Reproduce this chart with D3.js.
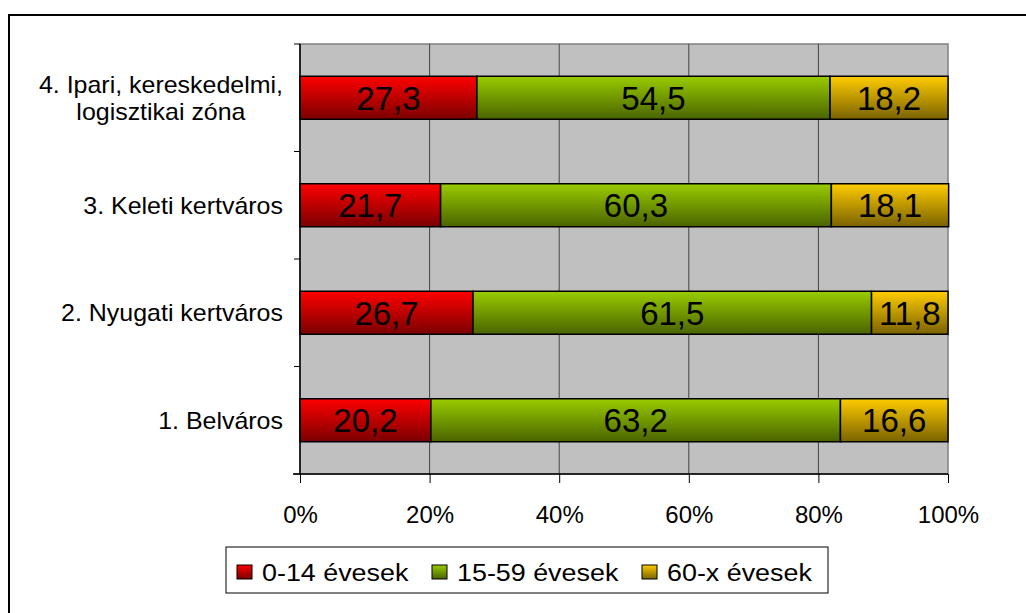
<!DOCTYPE html>
<html><head><meta charset="utf-8">
<script src="https://cdn.jsdelivr.net/npm/d3@7"></script>
<style>
html,body{margin:0;padding:0;background:#fff;}
text{font-family:"Liberation Sans",Arial,sans-serif;fill:#000;}
</style></head>
<body>
<svg id="chart" width="1026" height="613"></svg>
<script>
const categories = [["4. Ipari, kereskedelmi,","logisztikai zóna"],["3. Keleti kertváros"],["2. Nyugati kertváros"],["1. Belváros"]];
const seriesNames = ["0-14 évesek","15-59 évesek","60-x évesek"];
const age0_14 = [27.3, 21.7, 26.7, 20.2];
const age15_59 = [54.5, 60.3, 61.5, 63.2];
const age60x = [18.2, 18.1, 11.8, 16.6];
const xTicks = [0, 0.2, 0.4, 0.6, 0.8, 1.0];

const svg = d3.select("#chart");
const W = 1026, H = 613;
const M = {left: 300, top: 44, right: 948, bottom: 474};

// outer frame
svg.append("rect").attr("x", 9).attr("y", 15).attr("width", W + 10).attr("height", H + 10)
  .attr("fill", "#fff").attr("stroke", "#000").attr("stroke-width", 2);

const defs = svg.append("defs");
const grads = [["#ff0000","#7a0000"],["#99cc00","#4a6300"],["#ffcc00","#7a6200"]];
grads.forEach((g,i)=>{
  const lg = defs.append("linearGradient").attr("id","g"+i).attr("x1",0).attr("y1",0).attr("x2",0).attr("y2",1);
  lg.append("stop").attr("offset","0%").attr("stop-color",g[0]);
  lg.append("stop").attr("offset","100%").attr("stop-color",g[1]);
});

const x = d3.scaleLinear().domain([0,1]).range([M.left, M.right]);
const y = d3.scaleBand().domain(d3.range(categories.length)).range([M.top, M.bottom]).paddingInner(0.6).paddingOuter(0.3);
const yOuter = d3.scaleBand().domain(d3.range(categories.length)).range([M.top, M.bottom]);

// plot background
svg.append("rect").attr("x", M.left).attr("y", M.top).attr("width", M.right - M.left).attr("height", M.bottom - M.top)
  .attr("fill", "#c0c0c0").attr("stroke", "#808080").attr("stroke-width", 1.5);

// grid lines
svg.append("g").selectAll("line").data(xTicks.slice(1, -1)).join("line")
  .attr("x1", d => x(d)).attr("x2", d => x(d)).attr("y1", M.top).attr("y2", M.bottom)
  .attr("stroke", "#444").attr("stroke-width", 1);

// bars
const series = [age0_14, age15_59, age60x];
const stackData = categories.map((c,i) => {
  let acc = 0;
  return series.map((s,k) => { const v = s[i]/100; const r = {i, k, v: s[i], x0: acc, x1: acc + v}; acc += v; return r; });
});
const bars = svg.append("g");
stackData.forEach(row => {
  row.forEach(d => {
    bars.append("rect").attr("x", x(d.x0)).attr("y", y(d.i)).attr("width", x(d.x1) - x(d.x0)).attr("height", y.bandwidth())
      .attr("fill", `url(#g${d.k})`).attr("stroke", "#000").attr("stroke-width", 1.5);
    bars.append("text").attr("x", (x(d.x0) + x(d.x1)) / 2).attr("y", y(d.i) + y.bandwidth()/2).attr("dy", "0.36em")
      .attr("text-anchor", "middle").attr("font-size", 33).text(d3.format(".1f")(d.v).replace(".", ","));
  });
});

// axes
const xAxis = d3.axisBottom(x).tickValues(xTicks).tickFormat(d3.format(".0%")).tickSize(9).tickSizeOuter(0);
const gx = svg.append("g").attr("transform", `translate(0,${M.bottom})`).call(xAxis);
gx.select(".domain").remove();
gx.selectAll(".tick line").attr("stroke", "#000").attr("stroke-width", 1);
gx.selectAll(".tick text").attr("font-size", 24).attr("font-family", null).attr("dy", 0).attr("y", 49);
svg.append("line").attr("x1", M.left - 7).attr("x2", M.right).attr("y1", M.bottom).attr("y2", M.bottom).attr("stroke", "#000").attr("stroke-width", 1.5);
svg.append("line").attr("x1", M.left).attr("x2", M.left).attr("y1", M.top).attr("y2", M.bottom).attr("stroke", "#000").attr("stroke-width", 1.5);

// y ticks at band boundaries
const yb = d3.range(categories.length + 1).map(i => i === categories.length ? M.bottom : yOuter(i));
svg.append("g").selectAll("line").data(yb).join("line")
  .attr("x1", M.left - 6).attr("x2", M.left).attr("y1", d => d).attr("y2", d => d).attr("stroke", "#000").attr("stroke-width", 1);

// category labels (right edge at 283, lines centred on each other)
const catG = svg.append("g");
const sx = 1.04;
categories.forEach((lines, i) => {
  const cy = y(i) + y.bandwidth()/2;
  const lh = 27;
  const t = catG.append("text").attr("font-size", 24).attr("text-anchor", "middle");
  lines.forEach((ln, j) => {
    t.append("tspan").attr("x", 0).attr("y", cy + (j - (lines.length - 1)/2) * lh).attr("dy", "0.36em").text(ln);
  });
  const bb = t.node().getBBox();
  t.attr("transform", `translate(${283 - bb.width*sx/2},0) scale(${sx},1)`);
});

// legend
const lg = svg.append("g");
lg.append("rect").attr("x", 226).attr("y", 547).attr("width", 602).attr("height", 46).attr("fill", "#fff").attr("stroke", "#000").attr("stroke-width", 1);
const legX = [237, 432, 642];
seriesNames.forEach((n, k) => {
  lg.append("rect").attr("x", legX[k]).attr("y", 565).attr("width", 15).attr("height", 14).attr("fill", `url(#g${k})`).attr("stroke", "#000").attr("stroke-width", 1);
  lg.append("text").attr("transform", `translate(${legX[k] + 25},572) scale(1.12,1)`).attr("dy", "0.36em").attr("font-size", 24).text(n);
});
</script>
</body></html>
